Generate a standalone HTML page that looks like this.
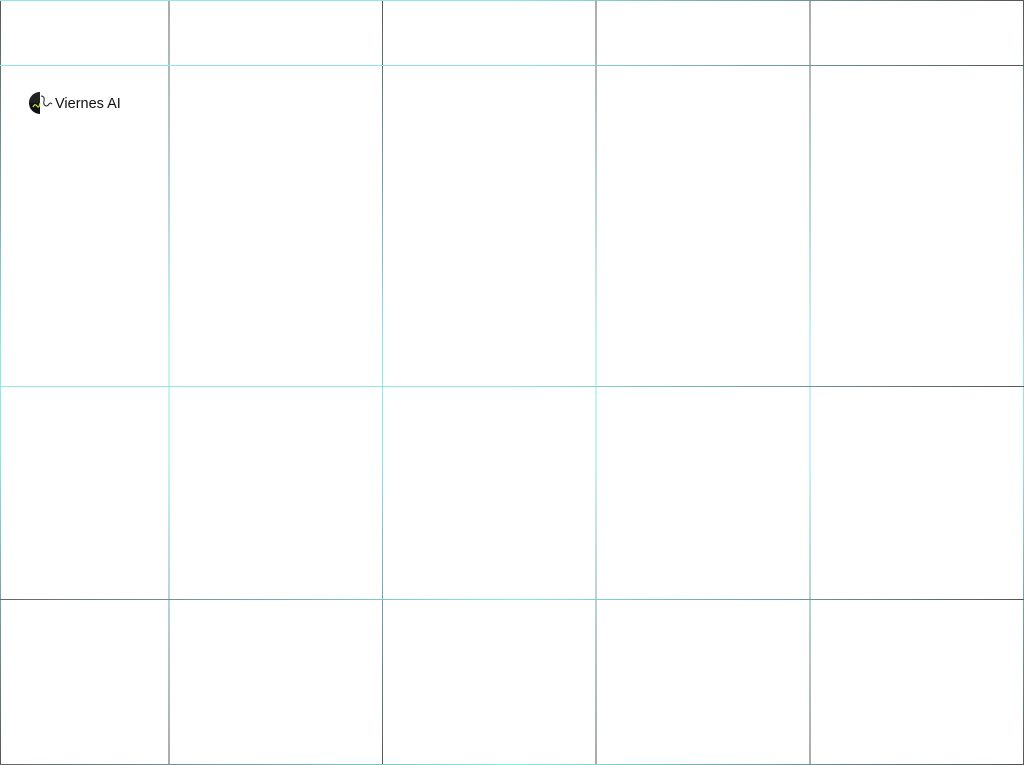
<!DOCTYPE html>
<html><head><meta charset="utf-8"><style>
html,body{margin:0;padding:0;background:#fff;width:1024px;height:765px;overflow:hidden}
</style></head><body>
<svg width="1024" height="765" viewBox="0 0 1024 765" xmlns="http://www.w3.org/2000/svg" style="position:absolute;left:0;top:0">
<defs>
<linearGradient id="v" x1="0" y1="0" x2="0" y2="1">
<stop offset="0" stop-color="#555"/><stop offset="0.45" stop-color="#8ee8e8"/><stop offset="0.6" stop-color="#8ee8e8"/><stop offset="1" stop-color="#555"/></linearGradient>
<linearGradient id="h" x1="0" y1="0" x2="1" y2="0">
<stop offset="0" stop-color="#8ee8e8"/><stop offset="0.5" stop-color="#8ee8e8"/><stop offset="1" stop-color="#555"/></linearGradient>
<linearGradient id="h2" x1="0" y1="0" x2="1" y2="0">
<stop offset="0" stop-color="#666"/><stop offset="0.5" stop-color="#8ee8e8"/><stop offset="1" stop-color="#555"/></linearGradient>
</defs>
<g fill="url(#v)">
<rect x="0" y="0" width="1" height="765"/>
<rect x="168.5" y="0" width="1" height="765"/>
<rect x="382" y="0" width="1" height="765"/>
<rect x="595.5" y="0" width="1" height="765"/>
<rect x="809.5" y="0" width="1" height="765"/>
<rect x="1023" y="0" width="1" height="765"/>
</g>
<rect x="0" y="0" width="1024" height="1" fill="url(#h)"/>
<rect x="0" y="65" width="1024" height="1" fill="url(#h)"/>
<rect x="0" y="386" width="1024" height="1" fill="url(#h)"/>
<rect x="0" y="599" width="1024" height="1" fill="url(#h2)"/>
<rect x="0" y="764" width="1024" height="1" fill="url(#h2)"/>
<path d="M40 92 A11 11 0 0 0 40 114 Z" fill="#111"/>
<path d="M40 92 A11 11 0 0 0 29 103 L40 103Z" fill="#222"/>
<path d="M33 107 q2 -4 4 -1 q2 3 3 -3" stroke="#b8e04a" stroke-width="1.2" fill="none"/>
<path d="M41 96 q4 0 3 5 q-1 4 2 5 q2 0 3 -2 q1 -2 3 0" stroke="#222" stroke-width="1" fill="none"/>
<text x="55" y="108" font-family="Liberation Sans, sans-serif" font-size="14.5" fill="#111">Viernes AI</text>
</svg>
</body></html>
